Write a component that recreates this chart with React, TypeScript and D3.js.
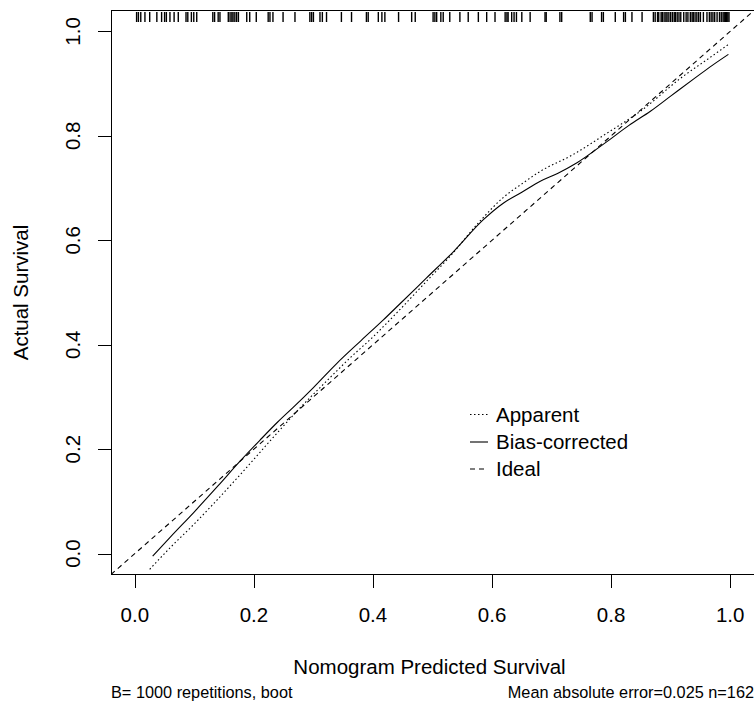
import React from 'react';
import * as d3 from 'd3';

const apparentX = [0.025, 0.06, 0.10, 0.131, 0.18, 0.232, 0.28, 0.32, 0.36, 0.40, 0.445, 0.487, 0.53, 0.58, 0.62, 0.65, 0.681, 0.736, 0.793, 0.849, 0.921, 0.96, 0.997];
const apparentY = [-0.03, 0.012, 0.057, 0.094, 0.155, 0.222, 0.282, 0.328, 0.373, 0.415, 0.467, 0.518, 0.57, 0.637, 0.683, 0.708, 0.732, 0.764, 0.805, 0.847, 0.914, 0.945, 0.975];

const biasX = [0.03, 0.06, 0.10, 0.14, 0.176, 0.21, 0.24, 0.266, 0.30, 0.339, 0.38, 0.417, 0.445, 0.49, 0.535, 0.585, 0.62, 0.65, 0.681, 0.71, 0.742, 0.793, 0.83, 0.866, 0.90, 0.94, 0.97, 0.997];
const biasY = [-0.005, 0.032, 0.080, 0.130, 0.176, 0.217, 0.252, 0.28, 0.318, 0.364, 0.408, 0.447, 0.478, 0.528, 0.578, 0.639, 0.672, 0.692, 0.713, 0.728, 0.748, 0.789, 0.82, 0.847, 0.876, 0.91, 0.935, 0.956];

const idealX = [-0.04, 1.04];

const rugX = [
  0.003, 0.006, 0.010, 0.017, 0.025, 0.037, 0.045, 0.050, 0.053, 0.059, 0.066, 0.073, 0.086, 0.089, 0.095, 0.099, 0.104,
  0.131, 0.134, 0.140, 0.143, 0.157, 0.160, 0.163, 0.165, 0.168, 0.171, 0.174, 0.188, 0.193, 0.204, 0.224, 0.227, 0.232,
  0.249, 0.269, 0.294, 0.297, 0.300, 0.311, 0.315, 0.322, 0.347, 0.364, 0.389, 0.392, 0.409, 0.415, 0.420, 0.443, 0.465, 0.471,
  0.501, 0.504, 0.507, 0.514, 0.518, 0.529, 0.546, 0.560, 0.577, 0.591, 0.605, 0.622, 0.625, 0.627, 0.633, 0.637, 0.641,
  0.650, 0.664, 0.689, 0.691, 0.714, 0.717, 0.765, 0.768, 0.784, 0.787, 0.807, 0.821, 0.824, 0.835, 0.852,
  0.871, 0.874, 0.878, 0.880, 0.884, 0.886, 0.889, 0.892, 0.894, 0.897, 0.900, 0.903, 0.906, 0.908, 0.911, 0.914, 0.917,
  0.922, 0.926, 0.929, 0.933, 0.936, 0.938, 0.941, 0.944, 0.947, 0.950, 0.955, 0.961, 0.965, 0.968, 0.971, 0.974,
  0.978, 0.982, 0.985, 0.988, 0.990, 0.992, 0.994, 0.996, 0.998
];

const xTicks = [0, 0.2, 0.4, 0.6, 0.8, 1.0];
const yTicks = [0, 0.2, 0.4, 0.6, 0.8, 1.0];
const legendLabels = ['Apparent', 'Bias-corrected', 'Ideal'];
const xTitle = 'Nomogram Predicted Survival';
const yTitle = 'Actual Survival';
const subLeft = 'B= 1000 repetitions, boot';
const subRight = 'Mean absolute error=0.025 n=162';

const FONT = '"Liberation Sans", Arial, Helvetica, sans-serif';

export default function App() {
  const W = 754;
  const H = 704;
  const x = d3.scaleLinear().domain([-0.04, 1.04]).range([111, 754]);
  const y = d3.scaleLinear().domain([-0.04, 1.04]).range([574.5, 10.5]);

  const line = d3.line<[number, number]>()
    .x(d => x(d[0]))
    .y(d => y(d[1]))
    .curve(d3.curveMonotoneX);

  const apparent = line(apparentX.map((v, i) => [v, apparentY[i]] as [number, number])) || '';
  const bias = line(biasX.map((v, i) => [v, biasY[i]] as [number, number])) || '';
  const ideal = d3.line<number>().x(d => x(d)).y(d => y(d))(idealX) || '';

  const legendDash = ['1.5,2.5', 'none', '5,4'];
  const legendY = [414.5, 442, 469];

  return (
    <svg width={W} height={H} style={{ position: 'absolute', left: 0, top: 0, background: '#fff' }}
      fontFamily={FONT}>
      <defs>
        <clipPath id="plotclip">
          <rect x={111} y={10.5} width={643} height={564} />
        </clipPath>
      </defs>
      <rect x={0} y={0} width={W} height={H} fill="#fff" />
      <rect x={111.5} y={10.5} width={643} height={564} fill="none" stroke="#000" strokeWidth={1} />

      {xTicks.map(t => {
        const px = Math.round(x(t)) + 0.5;
        return (
          <g key={'x' + t}>
            <line x1={px} x2={px} y1={574.5} y2={588} stroke="#000" strokeWidth={1} />
            <text x={x(t)} y={621.5} fontSize={20.5} textAnchor="middle" fill="#000">{t.toFixed(1)}</text>
          </g>
        );
      })}
      {yTicks.map(t => {
        const py = Math.round(y(t)) + 0.5;
        return (
          <g key={'y' + t}>
            <line x1={98} x2={111.5} y1={py} y2={py} stroke="#000" strokeWidth={1} />
            <text transform={`translate(79.5,${y(t)}) rotate(-90)`} fontSize={20.5} textAnchor="middle" fill="#000">{t.toFixed(1)}</text>
          </g>
        );
      })}

      {rugX.map((v, i) => (
        <line key={'r' + i} x1={x(v)} x2={x(v)} y1={12} y2={22} stroke="#000" strokeWidth={1.4} />
      ))}

      <g clipPath="url(#plotclip)" fill="none" stroke="#000" strokeWidth={1.1}>
        <path d={ideal} strokeDasharray="5,4" />
        <path d={apparent} strokeDasharray="1.5,2.5" />
        <path d={bias} />
      </g>

      {legendLabels.map((lab, i) => (
        <g key={lab}>
          <line x1={470} x2={488} y1={legendY[i]} y2={legendY[i]} stroke="#000" strokeWidth={1.1}
            strokeDasharray={legendDash[i]} />
          <text x={496} y={legendY[i] + 7.3} fontSize={20.5} fill="#000">{lab}</text>
        </g>
      ))}

      <text x={(111 + 754) / 2 - 3} y={673.5} fontSize={20.5} textAnchor="middle" fill="#000">{xTitle}</text>
      <text transform={`translate(28,${(10.5 + 574.5) / 2}) rotate(-90)`} fontSize={20.5} textAnchor="middle" fill="#000">{yTitle}</text>
      <text x={111} y={698} fontSize={16.3} fill="#000">{subLeft}</text>
      <text x={754} y={698} fontSize={16.3} textAnchor="end" fill="#000">{subRight}</text>
    </svg>
  );
}
